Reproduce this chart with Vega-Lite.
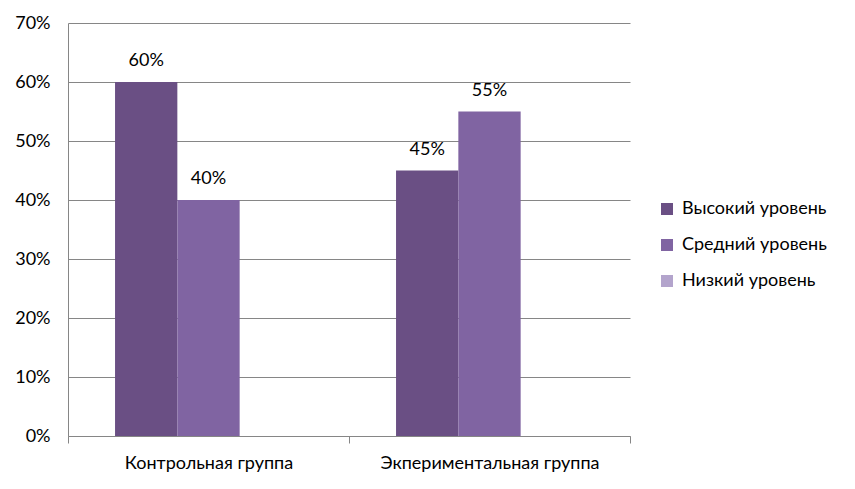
{
  "$schema": "https://vega.github.io/schema/vega-lite/v6.json",
  "width": 562,
  "height": 413,
  "autosize": {"type": "none"},
  "padding": {"left": 68, "top": 23, "right": 225, "bottom": 53},
  "background": "white",
  "data": {
    "values": [
      {"group": "Контрольная группа", "level": "Высокий уровень", "value": 0.6},
      {"group": "Контрольная группа", "level": "Средний уровень", "value": 0.4},
      {"group": "Контрольная группа", "level": "Низкий уровень", "value": 0},
      {"group": "Экпериментальная группа", "level": "Высокий уровень", "value": 0.45},
      {"group": "Экпериментальная группа", "level": "Средний уровень", "value": 0.55},
      {"group": "Экпериментальная группа", "level": "Низкий уровень", "value": 0}
    ]
  },
  "encoding": {
    "x": {
      "field": "group", "type": "nominal", "title": null, "sort": null,
      "scale": {"paddingInner": 0, "paddingOuter": 0},
      "axis": {"labelAngle": 0, "tickBand": "extent", "tickSize": 7, "tickColor": "#868686", "domainColor": "#868686", "labelPadding": 11, "labelFontSize": 18, "labelFont": "Lato", "labelColor": "#000000", "labelLimit": 0, "grid": false}
    },
    "xOffset": {"field": "level", "type": "nominal", "sort": ["Высокий уровень", "Средний уровень", "Низкий уровень"], "scale": {"paddingInner": 0, "paddingOuter": 0.755}},
    "y": {
      "field": "value", "type": "quantitative", "title": null,
      "scale": {"domain": [0, 0.7], "nice": false},
      "axis": {"values": [0, 0.1, 0.2, 0.3, 0.4, 0.5, 0.6, 0.7], "format": ".0%", "ticks": false, "labelPadding": 18, "labelFontSize": 18, "labelFont": "Lato", "labelColor": "#000000", "gridColor": "#868686", "domainColor": "#868686"}
    }
  },
  "layer": [
    {
      "mark": {"type": "bar"},
      "encoding": {
        "color": {
          "field": "level", "type": "nominal", "title": null,
          "sort": ["Высокий уровень", "Средний уровень", "Низкий уровень"],
          "scale": {"domain": ["Высокий уровень", "Средний уровень", "Низкий уровень"], "range": ["#6A4F84", "#8064A2", "#B3A4CC"]},
          "legend": {"orient": "none", "legendX": 590, "legendY": 177, "symbolType": "square", "symbolSize": 144, "symbolStrokeWidth": 0, "labelFontSize": 18, "labelFont": "Lato", "labelColor": "#000000", "labelLimit": 0, "rowPadding": 18, "labelOffset": 6}
        }
      }
    },
    {
      "transform": [{"filter": "datum.value > 0"}],
      "mark": {"type": "text", "dy": -12, "baseline": "bottom", "fontSize": 18, "font": "Lato", "color": "#000000"},
      "encoding": {"text": {"field": "value", "type": "quantitative", "format": ".0%"}}
    }
  ],
  "config": {"view": {"stroke": null}}
}
